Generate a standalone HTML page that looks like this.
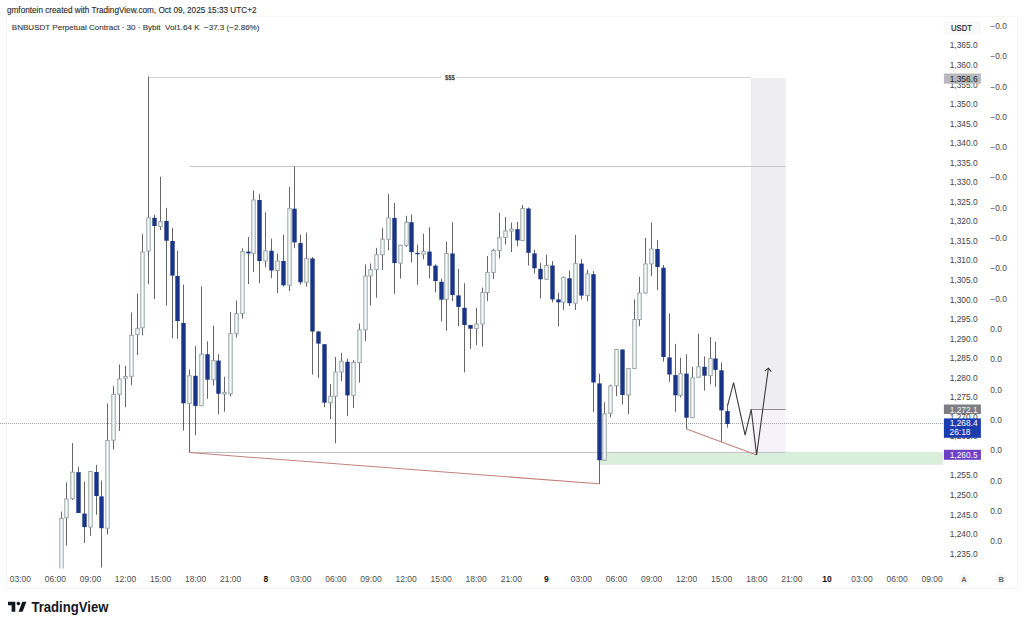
<!DOCTYPE html>
<html><head><meta charset="utf-8"><title>BNBUSDT chart</title><style>
html,body{margin:0;padding:0;background:#fff;}
body{width:1024px;height:626px;overflow:hidden;position:relative;font-family:"Liberation Sans",sans-serif;}
svg{position:absolute;left:0;top:0;font-family:"Liberation Sans",sans-serif;}
</style></head><body>
<svg width="1024" height="626" viewBox="0 0 1024 626">
<rect x="6.5" y="16.5" width="1011" height="572" fill="none" stroke="#f5f5f5" stroke-width="1"/>
<text x="7" y="12.7" font-size="8.2" fill="#262626" stroke="#262626" stroke-width="0.1">gmfontein created with TradingView.com, Oct 09, 2025 15:33 UTC+2</text>
<text x="11.8" y="29.8" font-size="8.05" fill="#383838" stroke="#383838" stroke-width="0.12" style="white-space:pre">BNBUSDT Perpetual Contract · 30 · Bybit  Vol1.64 K  −37.3 (−2.86%)</text>
<rect x="750.8" y="78" width="34.8" height="331" fill="#eeedf1"/>
<rect x="750.8" y="409" width="34.8" height="43.5" fill="#f5f3f9"/>
<rect x="600" y="452" width="343" height="12.8" fill="#d9eedb"/>
<line x1="148.5" y1="77.5" x2="750.8" y2="77.5" stroke="#d4d4d4" stroke-width="1"/>
<rect x="441" y="73" width="15" height="8" fill="#fff"/>
<text x="449.9" y="79.6" font-size="6.6" font-weight="bold" fill="#333" text-anchor="middle" textLength="10" lengthAdjust="spacingAndGlyphs">$$$</text>
<line x1="189.5" y1="166.5" x2="785.6" y2="166.5" stroke="#c6c6c6" stroke-width="1"/>
<line x1="189.5" y1="452.5" x2="785.6" y2="452.5" stroke="#c2c2c2" stroke-width="1"/>
<line x1="750.8" y1="409.5" x2="785.6" y2="409.5" stroke="#8e8e8e" stroke-width="1"/>
<line x1="0" y1="423.5" x2="943" y2="423.5" stroke="#9ea3aa" stroke-width="1" stroke-dasharray="1 1"/>
<line x1="189.6" y1="452.6" x2="598.8" y2="483.8" stroke="#c4817c" stroke-width="1.05"/>
<line x1="686.6" y1="429.1" x2="756.6" y2="455" stroke="#c4817c" stroke-width="1.05"/>
<line x1="61.50" y1="511.6" x2="61.50" y2="568.0" stroke="#666666" stroke-width="1"/>
<rect x="59.80" y="518.4" width="3.40" height="61.6" fill="#f7fbfa" stroke="#98a4a4" stroke-width="1"/>
<line x1="66.50" y1="482.5" x2="66.50" y2="545.8" stroke="#666666" stroke-width="1"/>
<rect x="64.80" y="499.0" width="3.40" height="18.8" fill="#f7fbfa" stroke="#98a4a4" stroke-width="1"/>
<line x1="72.50" y1="443.1" x2="72.50" y2="500.0" stroke="#666666" stroke-width="1"/>
<rect x="70.80" y="472.2" width="3.40" height="26.5" fill="#f7fbfa" stroke="#98a4a4" stroke-width="1"/>
<line x1="78.50" y1="466.6" x2="78.50" y2="513.0" stroke="#666666" stroke-width="1"/>
<rect x="76.30" y="472.2" width="4.40" height="40.8" fill="#1a3588"/>
<line x1="84.50" y1="481.5" x2="84.50" y2="543.1" stroke="#666666" stroke-width="1"/>
<rect x="82.30" y="513.6" width="4.40" height="13.5" fill="#1a3588"/>
<line x1="90.50" y1="471.0" x2="90.50" y2="535.8" stroke="#666666" stroke-width="1"/>
<rect x="88.80" y="471.5" width="3.40" height="55.5" fill="#f7fbfa" stroke="#98a4a4" stroke-width="1"/>
<line x1="96.50" y1="464.9" x2="96.50" y2="514.7" stroke="#666666" stroke-width="1"/>
<rect x="94.30" y="472.0" width="4.40" height="24.0" fill="#1a3588"/>
<line x1="101.50" y1="480.5" x2="101.50" y2="567.6" stroke="#666666" stroke-width="1"/>
<rect x="99.30" y="496.4" width="4.40" height="31.8" fill="#1a3588"/>
<line x1="107.50" y1="403.5" x2="107.50" y2="534.4" stroke="#666666" stroke-width="1"/>
<rect x="105.80" y="440.4" width="3.40" height="87.8" fill="#f7fbfa" stroke="#98a4a4" stroke-width="1"/>
<line x1="113.50" y1="386.0" x2="113.50" y2="449.5" stroke="#666666" stroke-width="1"/>
<rect x="111.80" y="394.5" width="3.40" height="45.7" fill="#f7fbfa" stroke="#98a4a4" stroke-width="1"/>
<line x1="119.50" y1="364.5" x2="119.50" y2="431.0" stroke="#666666" stroke-width="1"/>
<rect x="117.80" y="379.0" width="3.40" height="15.3" fill="#f7fbfa" stroke="#98a4a4" stroke-width="1"/>
<line x1="125.50" y1="365.8" x2="125.50" y2="407.2" stroke="#666666" stroke-width="1"/>
<rect x="123.80" y="376.5" width="3.40" height="1.8" fill="#f7fbfa" stroke="#98a4a4" stroke-width="1"/>
<line x1="131.50" y1="312.4" x2="131.50" y2="385.0" stroke="#666666" stroke-width="1"/>
<rect x="129.80" y="335.4" width="3.40" height="40.9" fill="#f7fbfa" stroke="#98a4a4" stroke-width="1"/>
<line x1="137.50" y1="293.5" x2="137.50" y2="355.0" stroke="#666666" stroke-width="1"/>
<rect x="135.80" y="328.3" width="3.40" height="6.3" fill="#f7fbfa" stroke="#98a4a4" stroke-width="1"/>
<line x1="142.50" y1="234.0" x2="142.50" y2="335.4" stroke="#666666" stroke-width="1"/>
<rect x="140.80" y="252.1" width="3.40" height="75.7" fill="#f7fbfa" stroke="#98a4a4" stroke-width="1"/>
<line x1="148.50" y1="76.5" x2="148.50" y2="284.3" stroke="#666666" stroke-width="1"/>
<rect x="146.80" y="217.8" width="3.40" height="33.2" fill="#f7fbfa" stroke="#98a4a4" stroke-width="1"/>
<line x1="154.50" y1="214.7" x2="154.50" y2="299.0" stroke="#666666" stroke-width="1"/>
<rect x="152.30" y="217.8" width="4.40" height="8.2" fill="#1a3588"/>
<line x1="160.50" y1="176.7" x2="160.50" y2="230.0" stroke="#666666" stroke-width="1"/>
<rect x="158.80" y="221.6" width="3.40" height="4.9" fill="#f7fbfa" stroke="#98a4a4" stroke-width="1"/>
<line x1="166.50" y1="207.8" x2="166.50" y2="305.6" stroke="#666666" stroke-width="1"/>
<rect x="164.30" y="221.0" width="4.40" height="19.7" fill="#1a3588"/>
<line x1="172.50" y1="227.8" x2="172.50" y2="338.3" stroke="#666666" stroke-width="1"/>
<rect x="170.30" y="241.0" width="4.40" height="34.6" fill="#1a3588"/>
<line x1="177.50" y1="250.7" x2="177.50" y2="338.8" stroke="#666666" stroke-width="1"/>
<rect x="175.30" y="276.0" width="4.40" height="45.0" fill="#1a3588"/>
<line x1="183.50" y1="284.6" x2="183.50" y2="430.7" stroke="#666666" stroke-width="1"/>
<rect x="181.30" y="323.0" width="4.40" height="80.3" fill="#1a3588"/>
<line x1="189.50" y1="369.5" x2="189.50" y2="452.6" stroke="#666666" stroke-width="1"/>
<rect x="187.80" y="375.8" width="3.40" height="27.8" fill="#f7fbfa" stroke="#98a4a4" stroke-width="1"/>
<line x1="195.50" y1="346.0" x2="195.50" y2="435.3" stroke="#666666" stroke-width="1"/>
<rect x="193.30" y="375.8" width="4.40" height="30.1" fill="#1a3588"/>
<line x1="201.50" y1="286.4" x2="201.50" y2="406.0" stroke="#666666" stroke-width="1"/>
<rect x="199.80" y="354.2" width="3.40" height="51.6" fill="#f7fbfa" stroke="#98a4a4" stroke-width="1"/>
<line x1="207.50" y1="341.4" x2="207.50" y2="398.9" stroke="#666666" stroke-width="1"/>
<rect x="205.30" y="354.2" width="4.40" height="25.5" fill="#1a3588"/>
<line x1="213.50" y1="325.5" x2="213.50" y2="385.4" stroke="#666666" stroke-width="1"/>
<rect x="211.80" y="360.6" width="3.40" height="19.1" fill="#f7fbfa" stroke="#98a4a4" stroke-width="1"/>
<line x1="218.50" y1="354.2" x2="218.50" y2="414.3" stroke="#666666" stroke-width="1"/>
<rect x="216.30" y="360.6" width="4.40" height="33.2" fill="#1a3588"/>
<line x1="224.50" y1="376.7" x2="224.50" y2="411.7" stroke="#666666" stroke-width="1"/>
<rect x="222.80" y="392.3" width="3.40" height="1.7" fill="#f7fbfa" stroke="#98a4a4" stroke-width="1"/>
<line x1="230.50" y1="312.0" x2="230.50" y2="396.4" stroke="#666666" stroke-width="1"/>
<rect x="228.80" y="333.7" width="3.40" height="60.1" fill="#f7fbfa" stroke="#98a4a4" stroke-width="1"/>
<line x1="236.50" y1="300.6" x2="236.50" y2="337.5" stroke="#666666" stroke-width="1"/>
<rect x="234.80" y="313.6" width="3.40" height="20.1" fill="#f7fbfa" stroke="#98a4a4" stroke-width="1"/>
<line x1="242.50" y1="248.2" x2="242.50" y2="318.6" stroke="#666666" stroke-width="1"/>
<rect x="240.80" y="251.6" width="3.40" height="61.9" fill="#f7fbfa" stroke="#98a4a4" stroke-width="1"/>
<line x1="248.50" y1="237.0" x2="248.50" y2="284.0" stroke="#666666" stroke-width="1"/>
<rect x="246.30" y="251.6" width="4.40" height="1.8" fill="#1a3588"/>
<line x1="253.50" y1="190.5" x2="253.50" y2="272.0" stroke="#666666" stroke-width="1"/>
<rect x="251.80" y="200.0" width="3.40" height="53.4" fill="#f7fbfa" stroke="#98a4a4" stroke-width="1"/>
<line x1="259.50" y1="194.0" x2="259.50" y2="283.3" stroke="#666666" stroke-width="1"/>
<rect x="257.30" y="200.0" width="4.40" height="61.0" fill="#1a3588"/>
<line x1="265.50" y1="212.2" x2="265.50" y2="267.4" stroke="#666666" stroke-width="1"/>
<rect x="263.80" y="250.8" width="3.40" height="10.2" fill="#f7fbfa" stroke="#98a4a4" stroke-width="1"/>
<line x1="271.50" y1="238.8" x2="271.50" y2="278.2" stroke="#666666" stroke-width="1"/>
<rect x="269.30" y="250.8" width="4.40" height="19.7" fill="#1a3588"/>
<line x1="277.50" y1="253.4" x2="277.50" y2="293.0" stroke="#666666" stroke-width="1"/>
<rect x="275.80" y="261.0" width="3.40" height="9.5" fill="#f7fbfa" stroke="#98a4a4" stroke-width="1"/>
<line x1="283.50" y1="234.6" x2="283.50" y2="286.6" stroke="#666666" stroke-width="1"/>
<rect x="281.30" y="261.0" width="4.40" height="24.3" fill="#1a3588"/>
<line x1="289.50" y1="186.8" x2="289.50" y2="291.0" stroke="#666666" stroke-width="1"/>
<rect x="287.80" y="208.7" width="3.40" height="76.6" fill="#f7fbfa" stroke="#98a4a4" stroke-width="1"/>
<line x1="294.50" y1="166.4" x2="294.50" y2="248.2" stroke="#666666" stroke-width="1"/>
<rect x="292.30" y="208.7" width="4.40" height="33.7" fill="#1a3588"/>
<line x1="300.50" y1="234.6" x2="300.50" y2="284.8" stroke="#666666" stroke-width="1"/>
<rect x="298.30" y="243.1" width="4.40" height="39.2" fill="#1a3588"/>
<line x1="306.50" y1="232.5" x2="306.50" y2="286.6" stroke="#666666" stroke-width="1"/>
<rect x="304.80" y="258.5" width="3.40" height="23.8" fill="#f7fbfa" stroke="#98a4a4" stroke-width="1"/>
<line x1="312.50" y1="257.0" x2="312.50" y2="374.6" stroke="#666666" stroke-width="1"/>
<rect x="310.30" y="258.5" width="4.40" height="73.0" fill="#1a3588"/>
<line x1="318.50" y1="331.0" x2="318.50" y2="377.8" stroke="#666666" stroke-width="1"/>
<rect x="316.30" y="331.5" width="4.40" height="12.1" fill="#1a3588"/>
<line x1="324.50" y1="344.0" x2="324.50" y2="407.2" stroke="#666666" stroke-width="1"/>
<rect x="322.30" y="344.2" width="4.40" height="58.5" fill="#1a3588"/>
<line x1="330.50" y1="384.2" x2="330.50" y2="419.3" stroke="#666666" stroke-width="1"/>
<rect x="328.80" y="396.3" width="3.40" height="6.4" fill="#f7fbfa" stroke="#98a4a4" stroke-width="1"/>
<line x1="335.50" y1="357.0" x2="335.50" y2="443.3" stroke="#666666" stroke-width="1"/>
<rect x="333.80" y="372.0" width="3.40" height="24.3" fill="#f7fbfa" stroke="#98a4a4" stroke-width="1"/>
<line x1="341.50" y1="352.9" x2="341.50" y2="381.0" stroke="#666666" stroke-width="1"/>
<rect x="339.80" y="361.2" width="3.40" height="10.8" fill="#f7fbfa" stroke="#98a4a4" stroke-width="1"/>
<line x1="347.50" y1="358.6" x2="347.50" y2="416.1" stroke="#666666" stroke-width="1"/>
<rect x="345.30" y="361.8" width="4.40" height="33.6" fill="#1a3588"/>
<line x1="353.50" y1="360.2" x2="353.50" y2="408.1" stroke="#666666" stroke-width="1"/>
<rect x="351.80" y="362.5" width="3.40" height="32.9" fill="#f7fbfa" stroke="#98a4a4" stroke-width="1"/>
<line x1="359.50" y1="323.5" x2="359.50" y2="382.6" stroke="#666666" stroke-width="1"/>
<rect x="357.80" y="329.9" width="3.40" height="32.6" fill="#f7fbfa" stroke="#98a4a4" stroke-width="1"/>
<line x1="365.50" y1="264.4" x2="365.50" y2="341.0" stroke="#666666" stroke-width="1"/>
<rect x="363.80" y="276.0" width="3.40" height="53.9" fill="#f7fbfa" stroke="#98a4a4" stroke-width="1"/>
<line x1="370.50" y1="263.5" x2="370.50" y2="305.5" stroke="#666666" stroke-width="1"/>
<rect x="368.80" y="269.6" width="3.40" height="6.4" fill="#f7fbfa" stroke="#98a4a4" stroke-width="1"/>
<line x1="376.50" y1="247.8" x2="376.50" y2="297.7" stroke="#666666" stroke-width="1"/>
<rect x="374.80" y="254.7" width="3.40" height="14.9" fill="#f7fbfa" stroke="#98a4a4" stroke-width="1"/>
<line x1="382.50" y1="228.1" x2="382.50" y2="270.0" stroke="#666666" stroke-width="1"/>
<rect x="380.80" y="239.3" width="3.40" height="15.4" fill="#f7fbfa" stroke="#98a4a4" stroke-width="1"/>
<line x1="388.50" y1="194.1" x2="388.50" y2="250.3" stroke="#666666" stroke-width="1"/>
<rect x="386.80" y="217.9" width="3.40" height="21.4" fill="#f7fbfa" stroke="#98a4a4" stroke-width="1"/>
<line x1="394.50" y1="203.0" x2="394.50" y2="293.8" stroke="#666666" stroke-width="1"/>
<rect x="392.30" y="217.9" width="4.40" height="45.2" fill="#1a3588"/>
<line x1="400.50" y1="245.2" x2="400.50" y2="278.5" stroke="#666666" stroke-width="1"/>
<rect x="398.80" y="245.2" width="3.40" height="17.9" fill="#f7fbfa" stroke="#98a4a4" stroke-width="1"/>
<line x1="406.50" y1="215.8" x2="406.50" y2="247.0" stroke="#666666" stroke-width="1"/>
<rect x="404.80" y="222.2" width="3.40" height="23.0" fill="#f7fbfa" stroke="#98a4a4" stroke-width="1"/>
<line x1="411.50" y1="214.5" x2="411.50" y2="262.4" stroke="#666666" stroke-width="1"/>
<rect x="409.30" y="222.2" width="4.40" height="29.9" fill="#1a3588"/>
<line x1="417.50" y1="244.5" x2="417.50" y2="284.9" stroke="#666666" stroke-width="1"/>
<rect x="415.30" y="252.9" width="4.40" height="1.3" fill="#1a3588"/>
<line x1="423.50" y1="233.7" x2="423.50" y2="259.3" stroke="#666666" stroke-width="1"/>
<rect x="421.80" y="251.6" width="3.40" height="2.6" fill="#f7fbfa" stroke="#98a4a4" stroke-width="1"/>
<line x1="429.50" y1="227.3" x2="429.50" y2="278.5" stroke="#666666" stroke-width="1"/>
<rect x="427.30" y="251.6" width="4.40" height="14.1" fill="#1a3588"/>
<line x1="435.50" y1="264.4" x2="435.50" y2="292.5" stroke="#666666" stroke-width="1"/>
<rect x="433.30" y="265.7" width="4.40" height="15.3" fill="#1a3588"/>
<line x1="441.50" y1="278.5" x2="441.50" y2="321.5" stroke="#666666" stroke-width="1"/>
<rect x="439.30" y="281.8" width="4.40" height="17.9" fill="#1a3588"/>
<line x1="446.50" y1="241.5" x2="446.50" y2="330.8" stroke="#666666" stroke-width="1"/>
<rect x="444.80" y="253.5" width="3.40" height="45.9" fill="#f7fbfa" stroke="#98a4a4" stroke-width="1"/>
<line x1="452.50" y1="222.3" x2="452.50" y2="301.1" stroke="#666666" stroke-width="1"/>
<rect x="450.30" y="253.5" width="4.40" height="41.5" fill="#1a3588"/>
<line x1="458.50" y1="269.0" x2="458.50" y2="326.4" stroke="#666666" stroke-width="1"/>
<rect x="456.30" y="295.4" width="4.40" height="11.5" fill="#1a3588"/>
<line x1="464.50" y1="283.3" x2="464.50" y2="372.4" stroke="#666666" stroke-width="1"/>
<rect x="462.30" y="307.8" width="4.40" height="17.2" fill="#1a3588"/>
<line x1="470.50" y1="325.0" x2="470.50" y2="348.9" stroke="#666666" stroke-width="1"/>
<rect x="468.30" y="325.0" width="4.40" height="3.7" fill="#1a3588"/>
<line x1="476.50" y1="307.8" x2="476.50" y2="345.1" stroke="#666666" stroke-width="1"/>
<rect x="474.80" y="324.1" width="3.40" height="4.6" fill="#f7fbfa" stroke="#98a4a4" stroke-width="1"/>
<line x1="482.50" y1="287.6" x2="482.50" y2="346.6" stroke="#666666" stroke-width="1"/>
<rect x="480.80" y="292.5" width="3.40" height="31.6" fill="#f7fbfa" stroke="#98a4a4" stroke-width="1"/>
<line x1="487.50" y1="256.0" x2="487.50" y2="301.1" stroke="#666666" stroke-width="1"/>
<rect x="485.80" y="272.4" width="3.40" height="20.1" fill="#f7fbfa" stroke="#98a4a4" stroke-width="1"/>
<line x1="493.50" y1="249.0" x2="493.50" y2="279.2" stroke="#666666" stroke-width="1"/>
<rect x="491.80" y="250.5" width="3.40" height="22.0" fill="#f7fbfa" stroke="#98a4a4" stroke-width="1"/>
<line x1="499.50" y1="212.7" x2="499.50" y2="258.5" stroke="#666666" stroke-width="1"/>
<rect x="497.80" y="237.7" width="3.40" height="12.8" fill="#f7fbfa" stroke="#98a4a4" stroke-width="1"/>
<line x1="505.50" y1="217.1" x2="505.50" y2="244.6" stroke="#666666" stroke-width="1"/>
<rect x="503.80" y="231.0" width="3.40" height="6.5" fill="#f7fbfa" stroke="#98a4a4" stroke-width="1"/>
<line x1="511.50" y1="222.5" x2="511.50" y2="252.0" stroke="#666666" stroke-width="1"/>
<rect x="509.80" y="229.0" width="3.40" height="2.0" fill="#f7fbfa" stroke="#98a4a4" stroke-width="1"/>
<line x1="517.50" y1="222.0" x2="517.50" y2="246.2" stroke="#666666" stroke-width="1"/>
<rect x="515.30" y="229.2" width="4.40" height="11.2" fill="#1a3588"/>
<line x1="522.50" y1="205.1" x2="522.50" y2="241.0" stroke="#666666" stroke-width="1"/>
<rect x="520.80" y="208.5" width="3.40" height="32.1" fill="#f7fbfa" stroke="#98a4a4" stroke-width="1"/>
<line x1="528.50" y1="207.5" x2="528.50" y2="265.5" stroke="#666666" stroke-width="1"/>
<rect x="526.30" y="208.5" width="4.40" height="44.3" fill="#1a3588"/>
<line x1="534.50" y1="249.6" x2="534.50" y2="273.5" stroke="#666666" stroke-width="1"/>
<rect x="532.30" y="253.4" width="4.40" height="14.8" fill="#1a3588"/>
<line x1="540.50" y1="263.0" x2="540.50" y2="298.4" stroke="#666666" stroke-width="1"/>
<rect x="538.30" y="268.8" width="4.40" height="10.5" fill="#1a3588"/>
<line x1="546.50" y1="254.8" x2="546.50" y2="280.0" stroke="#666666" stroke-width="1"/>
<rect x="544.80" y="265.5" width="3.40" height="13.8" fill="#f7fbfa" stroke="#98a4a4" stroke-width="1"/>
<line x1="552.50" y1="261.1" x2="552.50" y2="302.3" stroke="#666666" stroke-width="1"/>
<rect x="550.30" y="265.5" width="4.40" height="33.9" fill="#1a3588"/>
<line x1="558.50" y1="292.7" x2="558.50" y2="326.5" stroke="#666666" stroke-width="1"/>
<rect x="556.30" y="299.4" width="4.40" height="2.9" fill="#1a3588"/>
<line x1="563.50" y1="276.4" x2="563.50" y2="310.0" stroke="#666666" stroke-width="1"/>
<rect x="561.80" y="277.4" width="3.40" height="24.9" fill="#f7fbfa" stroke="#98a4a4" stroke-width="1"/>
<line x1="569.50" y1="270.7" x2="569.50" y2="306.1" stroke="#666666" stroke-width="1"/>
<rect x="567.30" y="278.3" width="4.40" height="24.9" fill="#1a3588"/>
<line x1="575.50" y1="234.8" x2="575.50" y2="310.0" stroke="#666666" stroke-width="1"/>
<rect x="573.80" y="263.6" width="3.40" height="39.6" fill="#f7fbfa" stroke="#98a4a4" stroke-width="1"/>
<line x1="581.50" y1="259.2" x2="581.50" y2="299.4" stroke="#666666" stroke-width="1"/>
<rect x="579.30" y="263.6" width="4.40" height="32.0" fill="#1a3588"/>
<line x1="587.50" y1="269.7" x2="587.50" y2="301.3" stroke="#666666" stroke-width="1"/>
<rect x="585.80" y="273.9" width="3.40" height="21.7" fill="#f7fbfa" stroke="#98a4a4" stroke-width="1"/>
<line x1="593.50" y1="271.1" x2="593.50" y2="412.2" stroke="#666666" stroke-width="1"/>
<rect x="591.30" y="274.2" width="4.40" height="108.3" fill="#1a3588"/>
<line x1="599.50" y1="373.8" x2="599.50" y2="484.2" stroke="#666666" stroke-width="1"/>
<rect x="597.30" y="383.4" width="4.40" height="76.8" fill="#1a3588"/>
<line x1="604.50" y1="402.2" x2="604.50" y2="461.0" stroke="#666666" stroke-width="1"/>
<rect x="602.80" y="413.8" width="3.40" height="46.4" fill="#f7fbfa" stroke="#98a4a4" stroke-width="1"/>
<line x1="610.50" y1="384.6" x2="610.50" y2="417.3" stroke="#666666" stroke-width="1"/>
<rect x="608.80" y="386.0" width="3.40" height="27.3" fill="#f7fbfa" stroke="#98a4a4" stroke-width="1"/>
<line x1="616.50" y1="349.5" x2="616.50" y2="396.2" stroke="#666666" stroke-width="1"/>
<rect x="614.80" y="349.5" width="3.40" height="36.2" fill="#f7fbfa" stroke="#98a4a4" stroke-width="1"/>
<line x1="622.50" y1="349.5" x2="622.50" y2="404.5" stroke="#666666" stroke-width="1"/>
<rect x="620.30" y="349.5" width="4.40" height="45.5" fill="#1a3588"/>
<line x1="628.50" y1="368.6" x2="628.50" y2="414.1" stroke="#666666" stroke-width="1"/>
<rect x="626.80" y="368.6" width="3.40" height="26.4" fill="#f7fbfa" stroke="#98a4a4" stroke-width="1"/>
<line x1="634.50" y1="299.3" x2="634.50" y2="369.0" stroke="#666666" stroke-width="1"/>
<rect x="632.80" y="319.5" width="3.40" height="49.1" fill="#f7fbfa" stroke="#98a4a4" stroke-width="1"/>
<line x1="639.50" y1="276.9" x2="639.50" y2="326.2" stroke="#666666" stroke-width="1"/>
<rect x="637.80" y="293.0" width="3.40" height="26.5" fill="#f7fbfa" stroke="#98a4a4" stroke-width="1"/>
<line x1="645.50" y1="238.0" x2="645.50" y2="293.6" stroke="#666666" stroke-width="1"/>
<rect x="643.80" y="263.9" width="3.40" height="29.1" fill="#f7fbfa" stroke="#98a4a4" stroke-width="1"/>
<line x1="651.50" y1="222.4" x2="651.50" y2="276.3" stroke="#666666" stroke-width="1"/>
<rect x="649.80" y="249.0" width="3.40" height="14.9" fill="#f7fbfa" stroke="#98a4a4" stroke-width="1"/>
<line x1="657.50" y1="240.1" x2="657.50" y2="289.9" stroke="#666666" stroke-width="1"/>
<rect x="655.30" y="249.0" width="4.40" height="18.0" fill="#1a3588"/>
<line x1="663.50" y1="265.0" x2="663.50" y2="361.6" stroke="#666666" stroke-width="1"/>
<rect x="661.30" y="267.7" width="4.40" height="89.3" fill="#1a3588"/>
<line x1="669.50" y1="313.3" x2="669.50" y2="382.0" stroke="#666666" stroke-width="1"/>
<rect x="667.30" y="357.4" width="4.40" height="17.1" fill="#1a3588"/>
<line x1="675.50" y1="343.9" x2="675.50" y2="411.9" stroke="#666666" stroke-width="1"/>
<rect x="673.30" y="375.1" width="4.40" height="20.2" fill="#1a3588"/>
<line x1="680.50" y1="357.8" x2="680.50" y2="397.3" stroke="#666666" stroke-width="1"/>
<rect x="678.80" y="373.6" width="3.40" height="21.7" fill="#f7fbfa" stroke="#98a4a4" stroke-width="1"/>
<line x1="686.50" y1="354.3" x2="686.50" y2="429.1" stroke="#666666" stroke-width="1"/>
<rect x="684.30" y="373.6" width="4.40" height="44.1" fill="#1a3588"/>
<line x1="692.50" y1="366.8" x2="692.50" y2="418.0" stroke="#666666" stroke-width="1"/>
<rect x="690.80" y="377.8" width="3.40" height="39.9" fill="#f7fbfa" stroke="#98a4a4" stroke-width="1"/>
<line x1="698.50" y1="333.5" x2="698.50" y2="377.5" stroke="#666666" stroke-width="1"/>
<rect x="696.80" y="366.8" width="3.40" height="10.4" fill="#f7fbfa" stroke="#98a4a4" stroke-width="1"/>
<line x1="704.50" y1="356.4" x2="704.50" y2="390.7" stroke="#666666" stroke-width="1"/>
<rect x="702.30" y="366.8" width="4.40" height="8.9" fill="#1a3588"/>
<line x1="710.50" y1="337.0" x2="710.50" y2="384.4" stroke="#666666" stroke-width="1"/>
<rect x="708.80" y="358.5" width="3.40" height="17.2" fill="#f7fbfa" stroke="#98a4a4" stroke-width="1"/>
<line x1="715.50" y1="341.8" x2="715.50" y2="386.9" stroke="#666666" stroke-width="1"/>
<rect x="713.30" y="358.5" width="4.40" height="11.4" fill="#1a3588"/>
<line x1="721.50" y1="362.6" x2="721.50" y2="441.6" stroke="#666666" stroke-width="1"/>
<rect x="719.30" y="370.3" width="4.40" height="40.1" fill="#1a3588"/>
<line x1="727.50" y1="404.2" x2="727.50" y2="427.7" stroke="#666666" stroke-width="1"/>
<rect x="725.30" y="411.1" width="4.40" height="12.9" fill="#1a3588"/>
<polyline points="727.6,405.6 733.6,382.6 745.1,435.2 751.2,409.4 756.6,455 768.4,368.2" fill="none" stroke="#3a3a3a" stroke-width="1.1" stroke-linejoin="miter"/>
<polyline points="764.8,370.9 768.5,368.2 771.3,371.6" fill="none" stroke="#3a3a3a" stroke-width="1.1"/>
<rect x="7" y="568.5" width="936" height="17.5" fill="#fff"/>
<text x="977.6" y="48.4" font-size="8.4" fill="#434343" text-anchor="end">1,365.0</text>
<text x="977.6" y="67.9" font-size="8.4" fill="#434343" text-anchor="end">1,360.0</text>
<text x="977.6" y="87.5" font-size="8.4" fill="#434343" text-anchor="end">1,355.0</text>
<text x="977.6" y="107.0" font-size="8.4" fill="#434343" text-anchor="end">1,350.0</text>
<text x="977.6" y="126.6" font-size="8.4" fill="#434343" text-anchor="end">1,345.0</text>
<text x="977.6" y="146.1" font-size="8.4" fill="#434343" text-anchor="end">1,340.0</text>
<text x="977.6" y="165.7" font-size="8.4" fill="#434343" text-anchor="end">1,335.0</text>
<text x="977.6" y="185.2" font-size="8.4" fill="#434343" text-anchor="end">1,330.0</text>
<text x="977.6" y="204.8" font-size="8.4" fill="#434343" text-anchor="end">1,325.0</text>
<text x="977.6" y="224.3" font-size="8.4" fill="#434343" text-anchor="end">1,320.0</text>
<text x="977.6" y="243.8" font-size="8.4" fill="#434343" text-anchor="end">1,315.0</text>
<text x="977.6" y="263.4" font-size="8.4" fill="#434343" text-anchor="end">1,310.0</text>
<text x="977.6" y="282.9" font-size="8.4" fill="#434343" text-anchor="end">1,305.0</text>
<text x="977.6" y="302.5" font-size="8.4" fill="#434343" text-anchor="end">1,300.0</text>
<text x="977.6" y="322.0" font-size="8.4" fill="#434343" text-anchor="end">1,295.0</text>
<text x="977.6" y="341.6" font-size="8.4" fill="#434343" text-anchor="end">1,290.0</text>
<text x="977.6" y="361.1" font-size="8.4" fill="#434343" text-anchor="end">1,285.0</text>
<text x="977.6" y="380.7" font-size="8.4" fill="#434343" text-anchor="end">1,280.0</text>
<text x="977.6" y="400.2" font-size="8.4" fill="#434343" text-anchor="end">1,275.0</text>
<text x="977.6" y="419.8" font-size="8.4" fill="#434343" text-anchor="end">1,270.0</text>
<text x="977.6" y="439.3" font-size="8.4" fill="#434343" text-anchor="end">1,265.0</text>
<text x="977.6" y="458.8" font-size="8.4" fill="#434343" text-anchor="end">1,260.0</text>
<text x="977.6" y="478.4" font-size="8.4" fill="#434343" text-anchor="end">1,255.0</text>
<text x="977.6" y="497.9" font-size="8.4" fill="#434343" text-anchor="end">1,250.0</text>
<text x="977.6" y="517.5" font-size="8.4" fill="#434343" text-anchor="end">1,245.0</text>
<text x="977.6" y="537.0" font-size="8.4" fill="#434343" text-anchor="end">1,240.0</text>
<text x="977.6" y="556.6" font-size="8.4" fill="#434343" text-anchor="end">1,235.0</text>
<rect x="943.5" y="21" width="37.5" height="13.5" fill="#f9f9f9"/>
<text x="951.1" y="30.6" font-size="8.2" fill="#222" stroke="#222" stroke-width="0.2" textLength="20.8" lengthAdjust="spacingAndGlyphs">USDT</text>
<rect x="943.9" y="73.5" width="37" height="10.200000000000003" fill="#b9b9be"/>
<text x="977.6" y="81.9" font-size="8.4" fill="#222" text-anchor="end">1,356.6</text>
<rect x="943.9" y="404.5" width="37" height="9.5" fill="#7d7e83"/>
<text x="977.6" y="412.6" font-size="8.4" fill="#f2f2f2" text-anchor="end">1,272.1</text>
<rect x="943.9" y="418.4" width="37" height="19.4" fill="#1b3cae"/>
<text x="977.6" y="426.4" font-size="8.4" fill="#fff" text-anchor="end">1,268.4</text>
<text x="949.5" y="435.3" font-size="8.4" fill="#fff">26:18</text>
<rect x="943.9" y="449.8" width="37" height="10.0" fill="#6b3fc6"/>
<text x="977.6" y="458.1" font-size="8.4" fill="#fff" text-anchor="end">1,260.5</text>
<text x="990.3" y="28.9" font-size="8.4" fill="#484848">−0.0</text>
<text x="990.3" y="59.2" font-size="8.4" fill="#484848">−0.0</text>
<text x="990.3" y="89.5" font-size="8.4" fill="#484848">−0.0</text>
<text x="990.3" y="119.8" font-size="8.4" fill="#484848">−0.0</text>
<text x="990.3" y="150.1" font-size="8.4" fill="#484848">−0.0</text>
<text x="990.3" y="180.4" font-size="8.4" fill="#484848">−0.0</text>
<text x="990.3" y="210.8" font-size="8.4" fill="#484848">−0.0</text>
<text x="990.3" y="241.1" font-size="8.4" fill="#484848">−0.0</text>
<text x="990.3" y="271.4" font-size="8.4" fill="#484848">−0.0</text>
<text x="990.3" y="301.7" font-size="8.4" fill="#484848">−0.0</text>
<text x="990.3" y="332.0" font-size="8.4" fill="#484848">0.0</text>
<text x="990.3" y="362.3" font-size="8.4" fill="#484848">0.0</text>
<text x="990.3" y="392.6" font-size="8.4" fill="#484848">0.0</text>
<text x="990.3" y="422.9" font-size="8.4" fill="#484848">0.0</text>
<text x="990.3" y="453.2" font-size="8.4" fill="#484848">0.0</text>
<text x="990.3" y="483.5" font-size="8.4" fill="#484848">0.0</text>
<text x="990.3" y="513.9" font-size="8.4" fill="#484848">0.0</text>
<text x="990.3" y="544.2" font-size="8.4" fill="#484848">0.0</text>
<text x="20.3" y="581.9" font-size="8.5" fill="#4d4d4d" text-anchor="middle">03:00</text>
<text x="55.4" y="581.9" font-size="8.5" fill="#4d4d4d" text-anchor="middle">06:00</text>
<text x="90.5" y="581.9" font-size="8.5" fill="#4d4d4d" text-anchor="middle">09:00</text>
<text x="125.5" y="581.9" font-size="8.5" fill="#4d4d4d" text-anchor="middle">12:00</text>
<text x="160.6" y="581.9" font-size="8.5" fill="#4d4d4d" text-anchor="middle">15:00</text>
<text x="195.7" y="581.9" font-size="8.5" fill="#4d4d4d" text-anchor="middle">18:00</text>
<text x="230.7" y="581.9" font-size="8.5" fill="#4d4d4d" text-anchor="middle">21:00</text>
<text x="265.8" y="581.9" font-size="8.5" fill="#111" text-anchor="middle" font-weight="bold">8</text>
<text x="300.9" y="581.9" font-size="8.5" fill="#4d4d4d" text-anchor="middle">03:00</text>
<text x="335.9" y="581.9" font-size="8.5" fill="#4d4d4d" text-anchor="middle">06:00</text>
<text x="371.0" y="581.9" font-size="8.5" fill="#4d4d4d" text-anchor="middle">09:00</text>
<text x="406.1" y="581.9" font-size="8.5" fill="#4d4d4d" text-anchor="middle">12:00</text>
<text x="441.1" y="581.9" font-size="8.5" fill="#4d4d4d" text-anchor="middle">15:00</text>
<text x="476.2" y="581.9" font-size="8.5" fill="#4d4d4d" text-anchor="middle">18:00</text>
<text x="511.3" y="581.9" font-size="8.5" fill="#4d4d4d" text-anchor="middle">21:00</text>
<text x="546.4" y="581.9" font-size="8.5" fill="#111" text-anchor="middle" font-weight="bold">9</text>
<text x="581.4" y="581.9" font-size="8.5" fill="#4d4d4d" text-anchor="middle">03:00</text>
<text x="616.5" y="581.9" font-size="8.5" fill="#4d4d4d" text-anchor="middle">06:00</text>
<text x="651.6" y="581.9" font-size="8.5" fill="#4d4d4d" text-anchor="middle">09:00</text>
<text x="686.6" y="581.9" font-size="8.5" fill="#4d4d4d" text-anchor="middle">12:00</text>
<text x="721.7" y="581.9" font-size="8.5" fill="#4d4d4d" text-anchor="middle">15:00</text>
<text x="756.8" y="581.9" font-size="8.5" fill="#4d4d4d" text-anchor="middle">18:00</text>
<text x="791.8" y="581.9" font-size="8.5" fill="#4d4d4d" text-anchor="middle">21:00</text>
<text x="826.9" y="581.9" font-size="8.5" fill="#111" text-anchor="middle" font-weight="bold">10</text>
<text x="862.0" y="581.9" font-size="8.5" fill="#4d4d4d" text-anchor="middle">03:00</text>
<text x="897.1" y="581.9" font-size="8.5" fill="#4d4d4d" text-anchor="middle">06:00</text>
<text x="932.1" y="581.9" font-size="8.5" fill="#4d4d4d" text-anchor="middle">09:00</text>
<circle cx="963.9" cy="579.6" r="5.5" fill="#f6f6f6"/>
<circle cx="1001.2" cy="579.6" r="5.5" fill="#f6f6f6"/>
<text x="963.9" y="582.4" font-size="7.5" fill="#666" font-weight="bold" text-anchor="middle">A</text>
<text x="1001.2" y="582.4" font-size="7.5" fill="#666" font-weight="bold" text-anchor="middle">B</text>
<g fill="#131722"><path d="M8,601.7 H15.3 V611.7 H11.6 V605.3 H8 Z"/><circle cx="18.4" cy="603.5" r="1.8"/><path d="M22.3,601.7 H26.4 L22.6,611.7 H18.5 Z"/></g>
<text x="31.4" y="611.7" font-size="13.8" font-weight="bold" fill="#131722" textLength="77" lengthAdjust="spacingAndGlyphs">TradingView</text>
</svg>
</body></html>
